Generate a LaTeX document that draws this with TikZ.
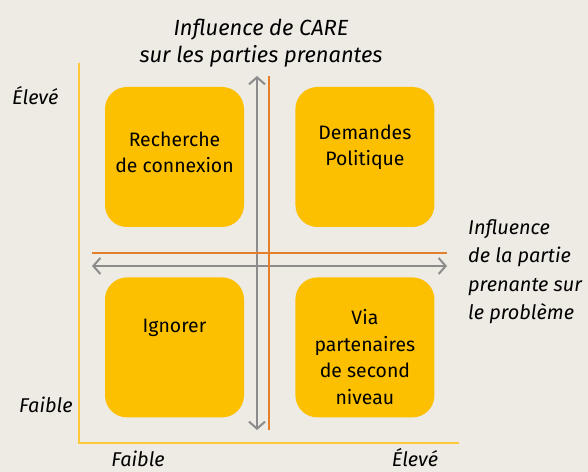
\documentclass[tikz,border=0pt]{standalone}
\usepackage{fontspec}
\setmainfont{Fira Sans}
\usetikzlibrary{positioning,arrows.meta}
\definecolor{paper}{HTML}{EEEAE4}
\definecolor{quadfill}{HTML}{FCC000}
\definecolor{axisyellow}{HTML}{FFC83A}
\definecolor{splitorange}{HTML}{E47F2C}
\definecolor{arrowgray}{HTML}{8C8C8C}

\tikzset{
  quad/.style={rectangle, rounded corners=22bp, fill=quadfill, inner sep=0pt,
    minimum width=139bp, minimum height=140bp},
  quadtext/.style={align=center, inner sep=0pt, anchor=base,
    font=\fontsize{19.5}{26.5}\selectfont},
  axislabel/.style={inner sep=0pt, anchor=base,
    font=\fontsize{20}{28.7}\selectfont\itshape},
  twoway/.style={draw=arrowgray, line width=2bp,
    {Straight Barb[length=7bp,width=16bp]}-{Straight Barb[length=7bp,width=16bp]}},
}

\begin{document}
\begin{tikzpicture}[x=1bp, y=1bp, node distance=50bp]
  \fill[paper] (0,0) rectangle (588,472);
  \useasboundingbox (0,0) rectangle (588,472);

  % Define nodes
  \node[quad] (tl) at (174.5,315) {};
  \node[quad, right=51bp of tl] (tr) {};
  \node[quad, below=50bp of tl] (bl) {};
  \node[quad, below=50bp of tr] (br) {};

  % base of a multi-line text = its last line
  \node[quadtext] (tltxt) at ([yshift=-86bp]tl.north) {Recherche\\de connexion};
  \node[quadtext] (trtxt) at ([yshift=-79bp]tr.north) {Demandes\\Politique};
  \node[quadtext] (bltxt) at ([yshift=-55bp]bl.north) {Ignorer};
  \node[quadtext] (brtxt) at ([yshift=-127bp]br.north) {Via\\partenaires\\de second\\niveau};

  % Axes
  \coordinate (ytop) at (79,409);
  \coordinate (origin) at (79,29);
  \coordinate (xend) at (459,29);
  \draw[axisyellow, line width=2bp] (ytop) -- (origin) -- (xend);

  \coordinate (vtop) at (257,396);
  \coordinate (vbot) at (257,42);
  \coordinate (hleft) at (92,206);
  \coordinate (hright) at (447,206);
  \draw[twoway] (vbot) -- (vtop);
  \draw[twoway] (hleft) -- (hright);

  \coordinate (otop) at (269,396);
  \coordinate (obot) at (269,42);
  \coordinate (oleft) at (92,219);
  \coordinate (oright) at (447,219);
  \draw[splitorange, line width=2bp] (otop) -- (obot);
  \draw[splitorange, line width=2bp] (oleft) -- (oright);

  % Labels
  \node[axislabel, align=center, font=\fontsize{22}{28}\selectfont\itshape] (care) at (261,409) {Influence de CARE\\sur les parties prenantes};
  \node[axislabel, align=left, anchor=base west] (partie) at (468,152) {Influence\\de la partie\\prenante sur\\le problème};
  \node[axislabel, anchor=base west] (yhigh) at (12,367) {Élevé};
  \node[axislabel, anchor=base west] (ylow) at (19,59) {Faible};
  \node[axislabel] (xlow) at (138,5) {Faible};
  \node[axislabel] (xhigh) at (415,5) {Élevé};
\end{tikzpicture}
\end{document}
